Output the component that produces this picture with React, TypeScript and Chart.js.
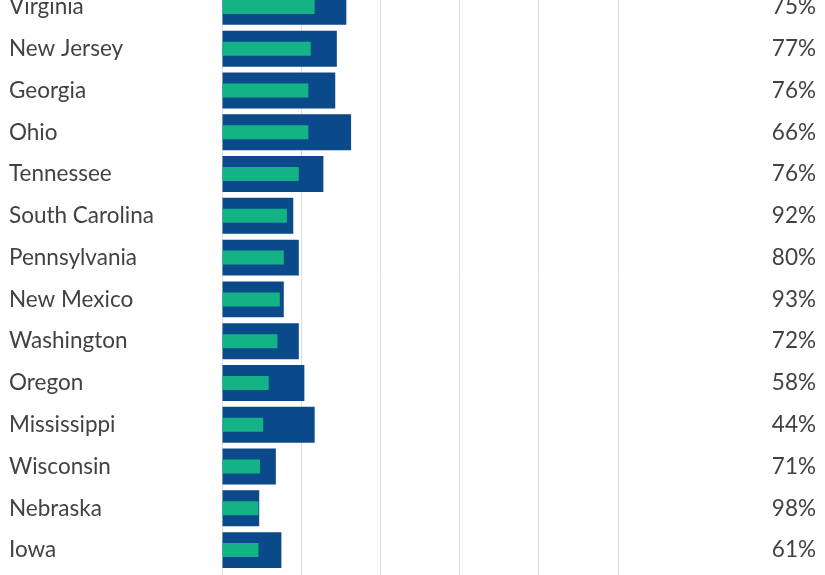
import React, { useEffect, useRef } from "react";
import { Chart, registerables } from "chart.js";

Chart.register(...registerables);

const states = [
  "Virginia",
  "New Jersey",
  "Georgia",
  "Ohio",
  "Tennessee",
  "South Carolina",
  "Pennsylvania",
  "New Mexico",
  "Washington",
  "Oregon",
  "Mississippi",
  "Wisconsin",
  "Nebraska",
  "Iowa",
];

const totalValues = [15.7, 14.5, 14.3, 16.3, 12.8, 9.0, 9.7, 7.8, 9.7, 10.4, 11.7, 6.8, 4.7, 7.5];
const partValues = [11.7, 11.2, 10.9, 10.9, 9.7, 8.2, 7.8, 7.3, 7.0, 5.9, 5.2, 4.8, 4.6, 4.6];
const percentLabels = ["75%", "77%", "76%", "66%", "76%", "92%", "80%", "93%", "72%", "58%", "44%", "71%", "98%", "61%"];

const xTicksMax = 50;
const xTickStep = 10;

const FONT = "Lato, 'Source Sans Pro', 'Noto Sans', sans-serif";
const TEXT = "#424242";

export default function App() {
  const ref = useRef<HTMLCanvasElement | null>(null);

  useEffect(() => {
    if (!ref.current) return;
    const chart = new Chart(ref.current, {
      type: "bar",
      data: {
        labels: states,
        datasets: [
          {
            label: "Part",
            data: partValues,
            backgroundColor: "#13b386",
            barPercentage: 0.335,
            categoryPercentage: 1,
            grouped: false,
            yAxisID: "y",
          },
          {
            label: "Total",
            data: totalValues,
            backgroundColor: "#0a4a8b",
            barPercentage: 0.86,
            categoryPercentage: 1,
            grouped: false,
            yAxisID: "y",
          },
        ],
      },
      options: {
        indexAxis: "y",
        animation: false,
        responsive: false,
        devicePixelRatio: 1,
        layout: { padding: { left: 9, right: 9, top: 26, bottom: 0 } },
        plugins: {
          legend: { display: false },
          tooltip: { enabled: false },
        },
        scales: {
          x: {
            type: "linear",
            position: "bottom",
            min: 0,
            max: xTicksMax,
            ticks: { display: false, stepSize: xTickStep },
            grid: { color: "#dedede", lineWidth: 1, drawTicks: true, tickLength: 29 },
            border: { display: false },
            afterFit: (s: any) => {
              s.height = 29;
            },
          },
          y: {
            type: "category",
            position: "left",
            offset: true,
            grid: { display: false, drawTicks: false },
            border: { display: false },
            ticks: {
              autoSkip: false,
              crossAlign: "far",
              padding: 0,
              color: TEXT,
              font: { family: FONT, size: 22.5 },
            },
            afterFit: (s: any) => {
              s.width = 213;
            },
          },
          y2: {
            type: "category",
            position: "right",
            labels: percentLabels,
            offset: true,
            grid: { display: false, drawTicks: false },
            border: { display: false },
            ticks: {
              autoSkip: false,
              crossAlign: "far",
              padding: 0,
              color: TEXT,
              font: { family: FONT, size: 22.5 },
            },
            afterFit: (s: any) => {
              s.width = 198;
            },
          },
        },
      },
    });
    return () => chart.destroy();
  }, []);

  return (
    <div style={{ position: "absolute", left: 0, top: -40, width: 825, height: 640 }}>
      <canvas ref={ref} width={825} height={640} style={{ display: "block", width: 825, height: 640 }} />
    </div>
  );
}
